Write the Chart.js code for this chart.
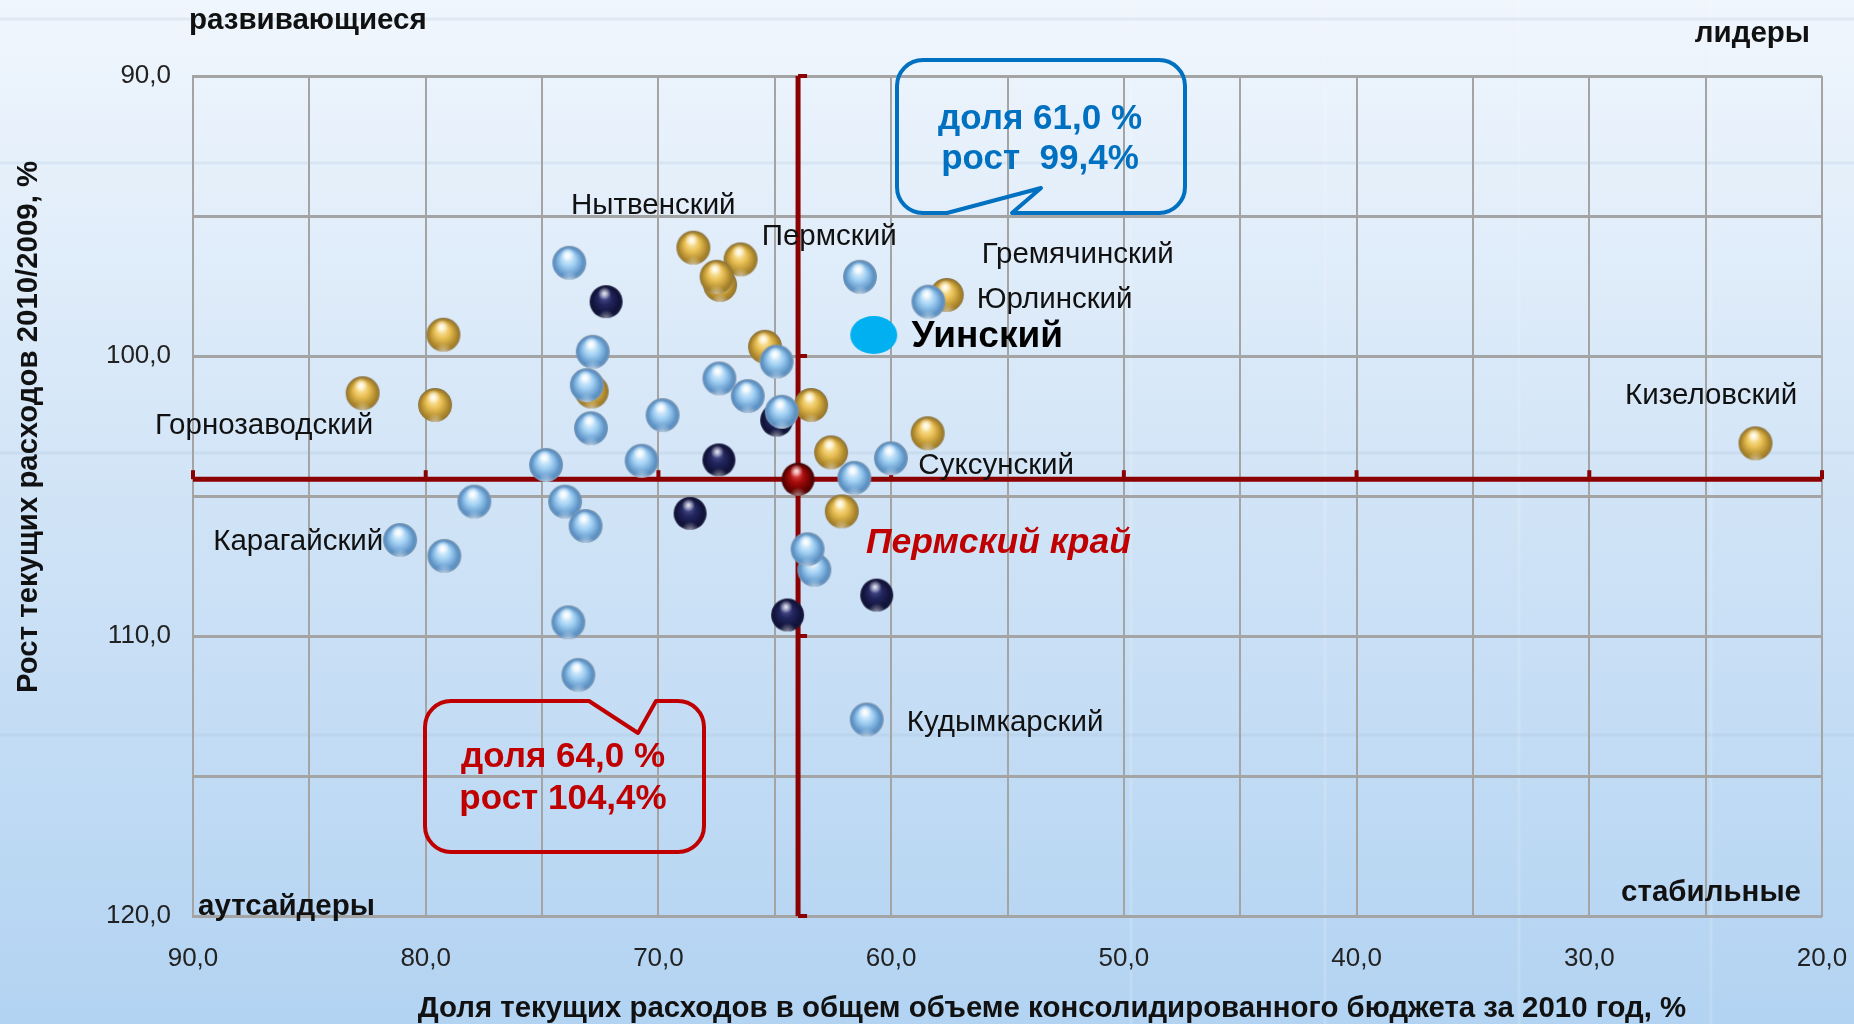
<!DOCTYPE html>
<html lang="ru">
<head>
<meta charset="utf-8">
<title>Доля текущих расходов и рост расходов</title>
<script src="https://cdn.jsdelivr.net/npm/chart.js@4.4.1/dist/chart.umd.min.js"></script>
<style>
  html, body { margin: 0; padding: 0; }
  body { width: 1854px; height: 1024px; overflow: hidden; }
</style>
</head>
<body>
<canvas id="myChart" width="1854" height="1024"></canvas>
<script>
// доля текущих расходов в бюджете 2010, % (x) и рост текущих расходов 2010/2009, % (y)
const lightBlueX = [73.83, 61.34, 58.40, 72.82, 64.92, 73.08, 67.38, 66.16, 64.70, 69.82, 72.90, 74.83, 70.72,
                    61.58, 60.01, 74.01, 77.91, 81.10, 79.20, 73.13, 63.30, 63.59, 73.87, 73.44, 61.05];
const lightBlueY = [96.67, 97.17, 98.06, 99.85, 100.20, 101.04, 100.80, 101.43, 101.99, 102.11, 102.58, 103.89, 103.74,
                    104.35, 103.65, 105.20, 105.20, 106.57, 107.14, 106.07, 107.64, 106.90, 109.51, 111.39, 112.98];

const goldX = [68.50, 66.47, 67.35, 67.50, 57.61, 79.24, 65.42, 72.87, 82.71, 79.60, 63.44, 58.43, 62.58, 62.12, 22.86];
const goldY = [96.13, 96.55, 97.46, 97.17, 97.82, 99.24, 99.67, 101.27, 101.33, 101.75, 101.75, 102.76, 103.44, 105.55, 103.12];

const navyX = [72.25, 64.92, 67.40, 68.64, 64.45, 60.62];
const navyY = [98.06, 102.29, 103.71, 105.62, 109.25, 108.54];

// Пермский край (среднее) и Уинский район
const kraiX = [64.0];
const kraiY = [104.4];
const uinskX = [60.75];
const uinskY = [99.25];

const xMin = 20, xMax = 90, yMin = 90, yMax = 120;
const xTickValues = [90, 80, 70, 60, 50, 40, 30, 20];
const xTickLabels = ['90,0', '80,0', '70,0', '60,0', '50,0', '40,0', '30,0', '20,0'];
const yTickValues = [90, 100, 110, 120];
const yTickLabels = ['90,0', '100,0', '110,0', '120,0'];

const regionNames = ['Нытвенский', 'Пермский', 'Гремячинский', 'Юрлинский', 'Уинский', 'Кизеловский',
                     'Горнозаводский', 'Суксунский', 'Карагайский', 'Пермский край', 'Кудымкарский'];
const quadrantNames = ['развивающиеся', 'лидеры', 'аутсайдеры', 'стабильные'];
const calloutUinsk = ['доля 61,0 %', 'рост  99,4%'];
const calloutKrai = ['доля 64,0 %', 'рост 104,4%'];

const xTitle = 'Доля текущих расходов в общем объеме консолидированного бюджета за 2010 год, %';
const yTitle = 'Рост текущих расходов 2010/2009, %';

const toPoints = (xs, ys) => xs.map((x, i) => ({ x: x, y: ys[i] }));

// шарики рисуем один раз в маленький canvas и отдаём как pointStyle
function makeBall(r, hi, mid, lo, rim) {
  const s = Math.ceil(r * 2 + 2);
  const c = document.createElement('canvas');
  c.width = s; c.height = s;
  const g = c.getContext('2d');
  const cx = s / 2, cy = s / 2;
  let gr = g.createRadialGradient(cx - r * 0.12, cy - r * 0.4, r * 0.05, cx, cy + r * 0.05, r * 1.02);
  gr.addColorStop(0, hi);
  gr.addColorStop(0.4, mid);
  gr.addColorStop(0.82, lo);
  gr.addColorStop(1, rim);
  g.beginPath();
  g.arc(cx, cy, r, 0, Math.PI * 2);
  g.fillStyle = gr;
  g.fill();
  g.save();
  g.clip();
  gr = g.createRadialGradient(cx, cy + r * 1.05, 0, cx, cy + r * 1.05, r * 0.55);
  gr.addColorStop(0, 'rgba(255,255,255,0.55)');
  gr.addColorStop(1, 'rgba(255,255,255,0)');
  g.fillStyle = gr;
  g.fillRect(0, 0, s, s);
  g.restore();
  gr = g.createRadialGradient(cx - r * 0.1, cy - r * 0.5, 0, cx - r * 0.1, cy - r * 0.5, r * 0.4);
  gr.addColorStop(0, 'rgba(255,255,255,0.9)');
  gr.addColorStop(1, 'rgba(255,255,255,0)');
  g.fillStyle = gr;
  g.beginPath();
  g.arc(cx, cy, r, 0, Math.PI * 2);
  g.fill();
  return c;
}

function makeEllipse(w, h, color) {
  const c = document.createElement('canvas');
  c.width = w + 2; c.height = h + 2;
  const g = c.getContext('2d');
  g.beginPath();
  g.ellipse(c.width / 2, c.height / 2, w / 2, h / 2, 0, 0, Math.PI * 2);
  g.fillStyle = color;
  g.fill();
  return c;
}

const ballLight = makeBall(17, '#f2faff', '#a2d1f4', '#5a90c4', '#7c97b0');
const ballGold = makeBall(17, '#fff4c2', '#ebc156', '#a88328', '#8a7445');
const ballNavy = makeBall(16.5, '#555a98', '#22255d', '#101236', '#1d1f44');
const ballRed = makeBall(16.5, '#e95353', '#a60b0b', '#5c0000', '#470808');
const uinskMark = makeEllipse(47, 38, '#00b0f0');

const darkRed = '#8b0000';
const gridColor = '#a4a4a4';
const fontFamily = '"Liberation Sans", Arial, sans-serif';

const background = {
  id: 'background',
  beforeDraw(chart) {
    const { ctx, width, height } = chart;
    ctx.save();
    const gr = ctx.createLinearGradient(0, 0, 0, height);
    gr.addColorStop(0, '#f0f6fd');
    gr.addColorStop(0.45, '#d3e5f7');
    gr.addColorStop(1, '#b2d3f2');
    ctx.fillStyle = gr;
    ctx.fillRect(0, 0, width, height);
    // светлые полосы фона слайда
    ctx.strokeStyle = 'rgba(255,255,255,0.15)';
    ctx.lineWidth = 3;
    [1131, 1325, 1519, 1711].forEach(x => {
      ctx.beginPath(); ctx.moveTo(x, 0); ctx.lineTo(x, height); ctx.stroke();
    });
    ctx.strokeStyle = 'rgba(160,185,210,0.2)';
    [19, 163, 453, 735].forEach(y => {
      ctx.beginPath(); ctx.moveTo(0, y); ctx.lineTo(width, y); ctx.stroke();
    });
    ctx.restore();
  }
};

// засечки на перекрестье (оси Пермского края)
const crossTicks = {
  id: 'crossTicks',
  beforeDatasetsDraw(chart) {
    const { ctx, scales: { x, y } } = chart;
    const cy = y.getPixelForValue(kraiY[0]);
    const cx = x.getPixelForValue(kraiX[0]);
    ctx.save();
    ctx.fillStyle = darkRed;
    xTickValues.forEach(v => {
      const px = x.getPixelForValue(v);
      ctx.fillRect(px - 2, cy - 9, 4, 9);
    });
    yTickValues.forEach(v => {
      const py = y.getPixelForValue(v);
      ctx.fillRect(cx, py - 2, 9, 4);
    });
    ctx.restore();
  }
};

function roundBox(ctx, l, t, r, b, rad, tail, tailOnTop) {
  ctx.beginPath();
  ctx.moveTo(l + rad, t);
  if (tailOnTop) {
    tail.forEach(p => ctx.lineTo(p[0], p[1]));
  }
  ctx.lineTo(r - rad, t);
  ctx.arcTo(r, t, r, t + rad, rad);
  ctx.lineTo(r, b - rad);
  ctx.arcTo(r, b, r - rad, b, rad);
  if (!tailOnTop) {
    tail.forEach(p => ctx.lineTo(p[0], p[1]));
  }
  ctx.lineTo(l + rad, b);
  ctx.arcTo(l, b, l, b - rad, rad);
  ctx.lineTo(l, t + rad);
  ctx.arcTo(l, t, l + rad, t, rad);
  ctx.closePath();
  ctx.stroke();
}

const annotations = {
  id: 'annotations',
  afterDraw(chart) {
    const { ctx, scales: { x, y } } = chart;
    ctx.save();
    ctx.textBaseline = 'middle';

    // подписи районов (левый край текста в единицах осей)
    const anchors = [[73.76, 94.62], [65.56, 95.76], [56.11, 96.38], [56.32, 97.99], [59.12, 99.31], [28.46, 101.44],
                     [91.63, 102.51], [58.83, 103.94], [89.13, 106.62], [61.08, 106.68], [59.33, 113.1]];
    regionNames.forEach((name, i) => {
      ctx.textAlign = 'left';
      if (name === 'Уинский') {
        ctx.font = 'bold 37px ' + fontFamily;
        ctx.fillStyle = '#000000';
      } else if (name === 'Пермский край') {
        ctx.font = 'italic bold 35.5px ' + fontFamily;
        ctx.fillStyle = '#c00000';
      } else {
        ctx.font = '29.5px ' + fontFamily;
        ctx.fillStyle = '#111111';
      }
      ctx.fillText(name, x.getPixelForValue(anchors[i][0]), y.getPixelForValue(anchors[i][1]));
    });

    // квадранты
    ctx.font = 'bold 29.5px ' + fontFamily;
    ctx.fillStyle = '#111111';
    ctx.textAlign = 'left';
    ctx.fillText(quadrantNames[0], 189, 21);
    ctx.textAlign = 'right';
    ctx.fillText(quadrantNames[1], 1810, 34);
    ctx.textAlign = 'left';
    ctx.fillText(quadrantNames[2], 198, 907);
    ctx.textAlign = 'right';
    ctx.fillText(quadrantNames[3], 1801, 893);

    // выноски
    ctx.lineWidth = 4;
    ctx.lineJoin = 'round';
    ctx.strokeStyle = '#0070c0';
    roundBox(ctx, 897, 60, 1185, 213, 26, [[1012, 213], [1041, 188], [947, 213]], false);
    ctx.strokeStyle = '#c00000';
    roundBox(ctx, 425, 701, 704, 852, 26, [[589, 701], [638, 733], [656, 701]], true);

    ctx.font = 'bold 35px ' + fontFamily;
    ctx.textAlign = 'center';
    ctx.fillStyle = '#0070c0';
    ctx.fillText(calloutUinsk[0], 1040, 119);
    ctx.fillText(calloutUinsk[1], 1040, 159);
    ctx.fillStyle = '#c00000';
    ctx.fillText(calloutKrai[0], 563, 757);
    ctx.fillText(calloutKrai[1], 563, 799);

    // названия осей
    ctx.fillStyle = '#111111';
    ctx.font = 'bold 29.4px ' + fontFamily;
    ctx.fillText(xTitle, 1052, 1009);
    ctx.save();
    ctx.translate(29, 427);
    ctx.rotate(-Math.PI / 2);
    ctx.fillText(yTitle, 0, 0);
    ctx.restore();
    ctx.restore();
  }
};

const ctx = document.getElementById('myChart');
const myChart = new Chart(ctx, {
  type: 'scatter',
  data: {
    datasets: [
      {
        label: 'Уинский',
        data: toPoints(uinskX, uinskY),
        pointStyle: uinskMark,
        pointRadius: 20,
        order: 0
      },
      {
        label: 'Пермский край',
        data: toPoints(kraiX, kraiY),
        pointStyle: ballRed,
        pointRadius: 16,
        order: 1
      },
      {
        label: 'группа 1',
        data: toPoints(lightBlueX, lightBlueY),
        pointStyle: ballLight,
        pointRadius: 16,
        order: 2
      },
      {
        label: 'группа 2',
        data: toPoints(goldX, goldY),
        pointStyle: ballGold,
        pointRadius: 16,
        order: 3
      },
      {
        label: 'группа 3',
        data: toPoints(navyX, navyY),
        pointStyle: ballNavy,
        pointRadius: 16,
        order: 4
      },
      {
        label: 'ось x края',
        data: [{ x: xMax, y: kraiY[0] }, { x: xMin, y: kraiY[0] }],
        showLine: true,
        pointRadius: 0,
        borderColor: darkRed,
        borderWidth: 5,
        order: 5
      },
      {
        label: 'ось y края',
        data: [{ x: kraiX[0], y: yMin }, { x: kraiX[0], y: yMax }],
        showLine: true,
        pointRadius: 0,
        borderColor: darkRed,
        borderWidth: 5,
        order: 6
      }
    ]
  },
  options: {
    responsive: false,
    animation: false,
    layout: { padding: { top: 76, right: 32, bottom: 0, left: 0 } },
    plugins: {
      legend: { display: false },
      tooltip: { enabled: false }
    },
    scales: {
      x: {
        type: 'linear',
        reverse: true,
        min: xMin,
        max: xMax,
        afterFit: (scale) => {
          scale.height = 108;
          scale.paddingLeft = 0;
          scale.paddingRight = 0;
        },
        grid: { color: gridColor, lineWidth: 2, drawTicks: false },
        border: { color: gridColor, width: 2 },
        ticks: {
          stepSize: 5,
          padding: 27,
          color: '#222222',
          font: { family: fontFamily, size: 26 },
          callback: (v) => {
            const i = xTickValues.indexOf(v);
            return i >= 0 ? xTickLabels[i] : '';
          }
        }
      },
      y: {
        type: 'linear',
        reverse: true,
        min: yMin,
        max: yMax,
        afterFit: (scale) => {
          scale.width = 193;
          scale.paddingTop = 0;
          scale.paddingBottom = 0;
        },
        grid: { color: gridColor, lineWidth: 3, drawTicks: false },
        border: { color: gridColor, width: 2 },
        ticks: {
          stepSize: 5,
          padding: 22,
          color: '#222222',
          font: { family: fontFamily, size: 26 },
          callback: (v) => {
            const i = yTickValues.indexOf(v);
            return i >= 0 ? yTickLabels[i] : '';
          }
        }
      }
    }
  },
  plugins: [background, crossTicks, annotations]
});
</script>
</body>
</html>
